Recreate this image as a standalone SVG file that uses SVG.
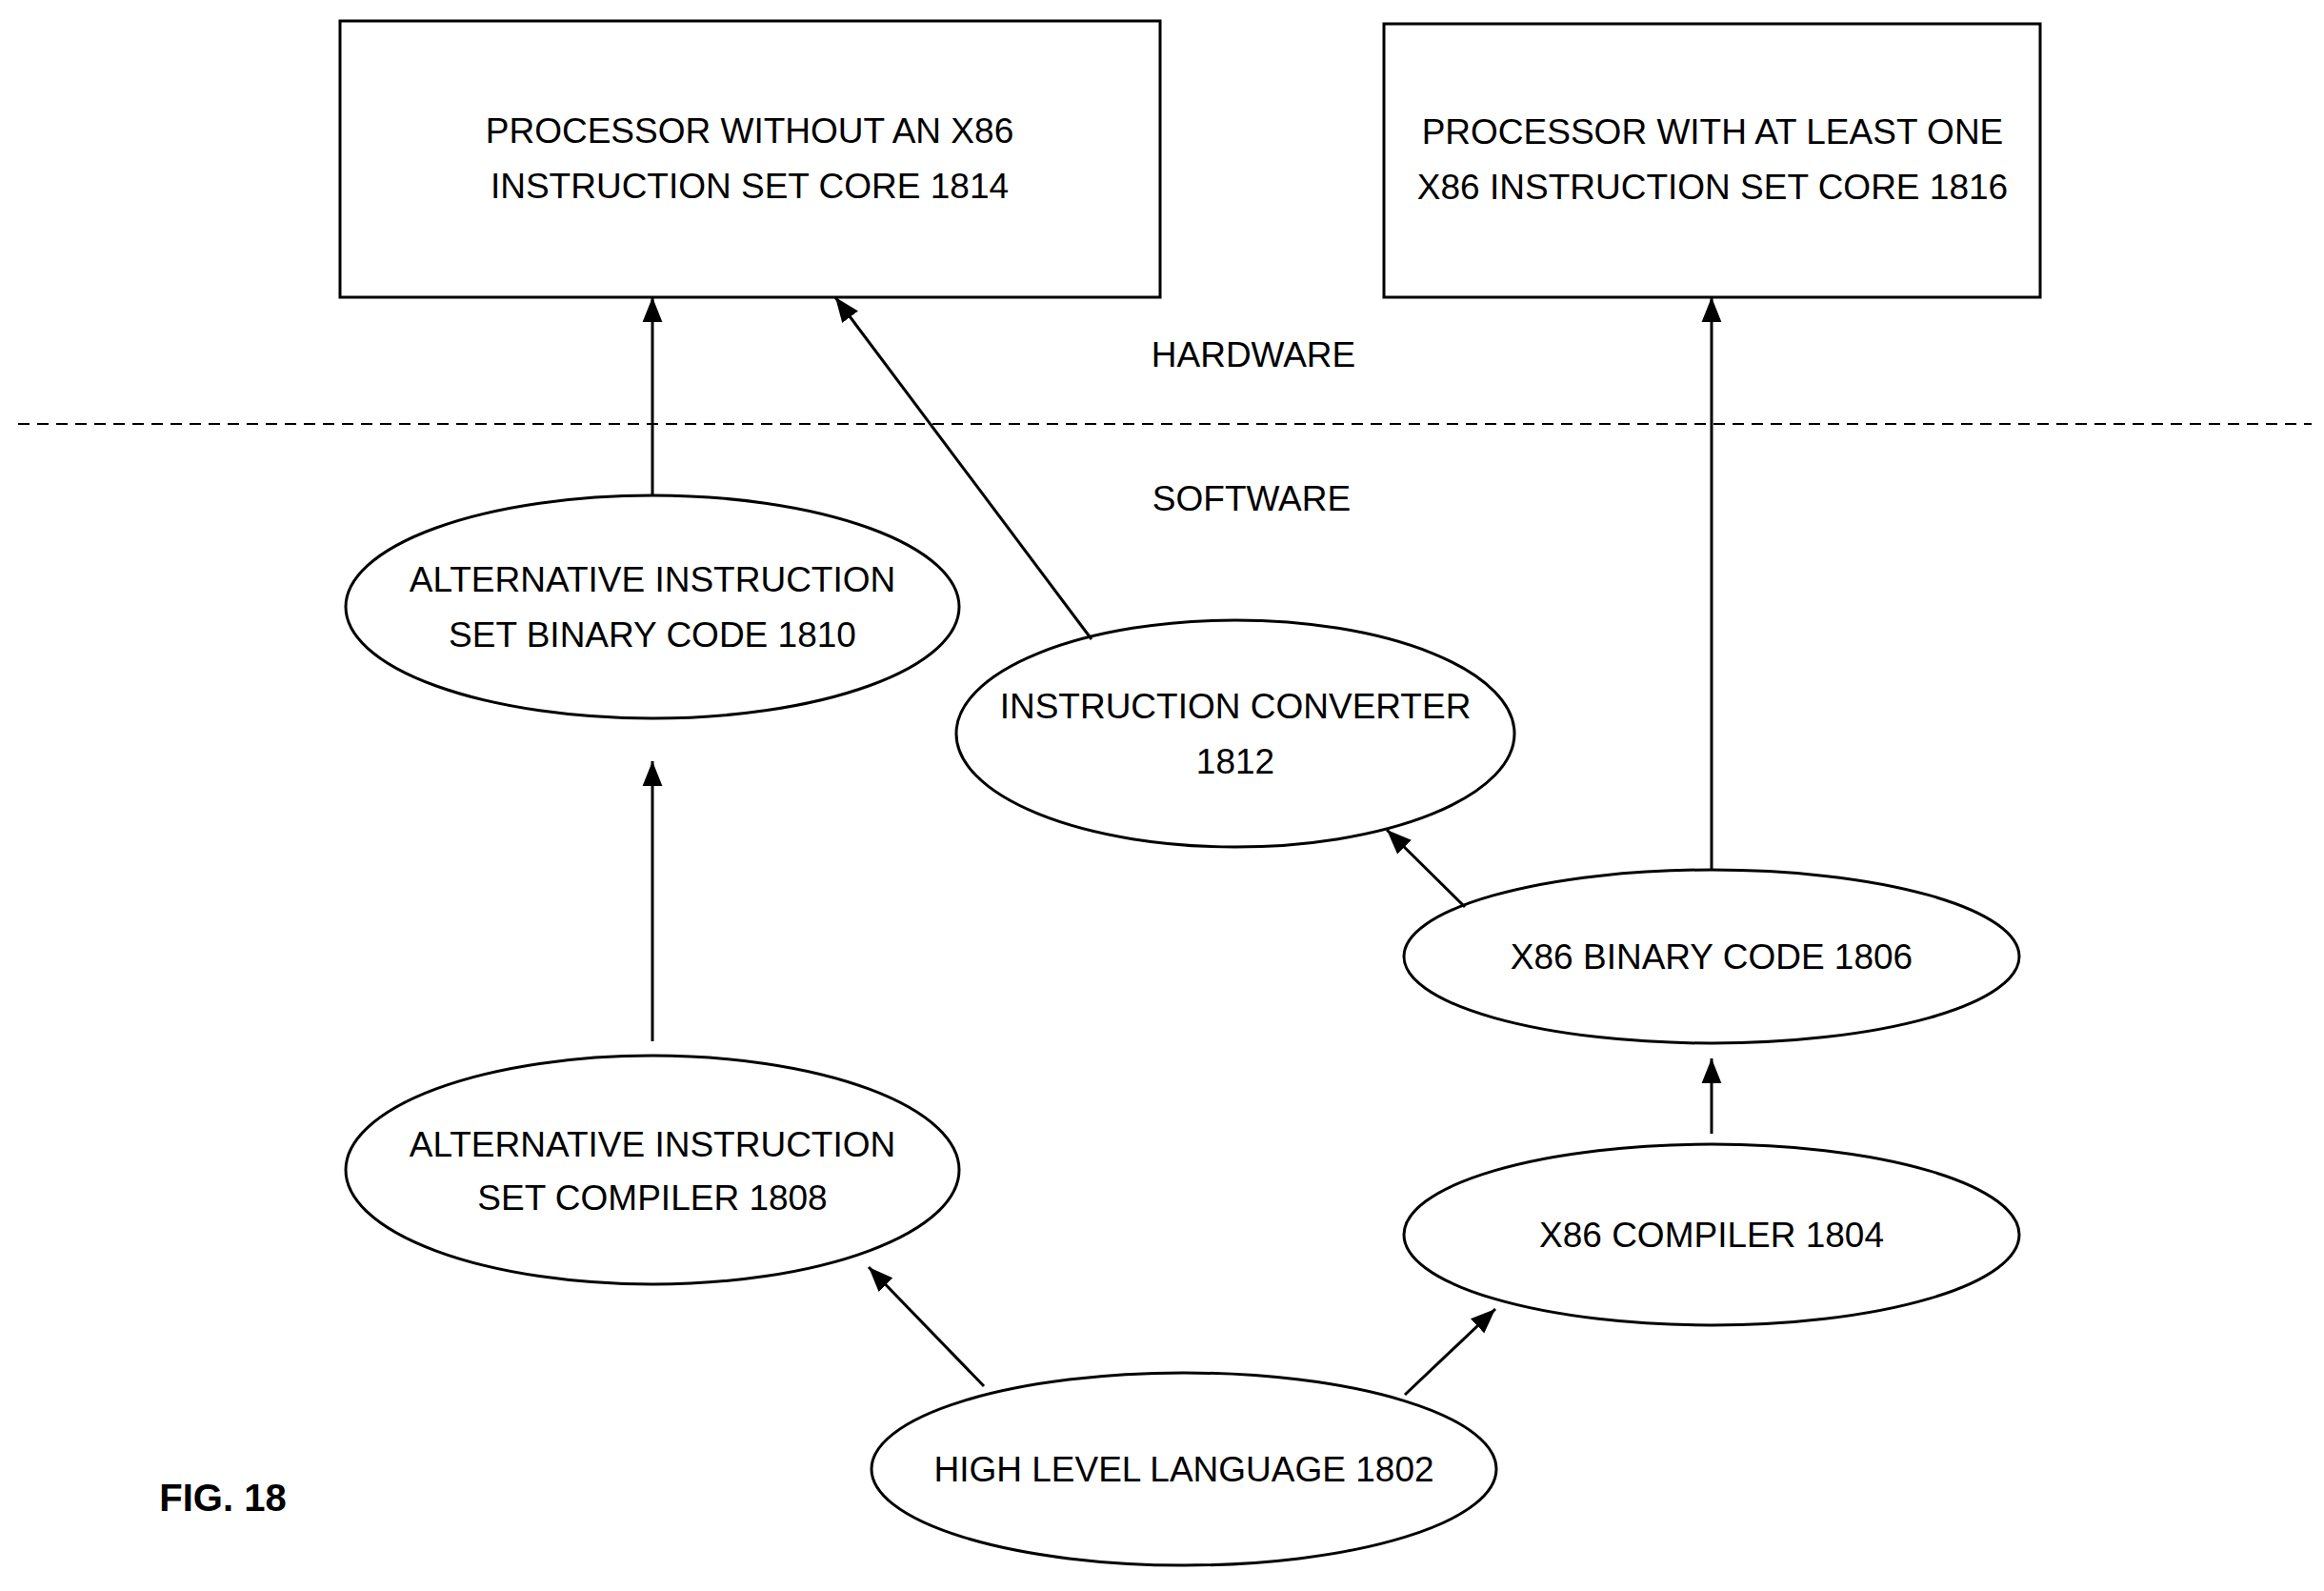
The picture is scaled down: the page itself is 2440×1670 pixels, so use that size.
<svg xmlns="http://www.w3.org/2000/svg" width="2440" height="1670" viewBox="0 0 2440 1670">
<defs>
<marker id="ah" markerWidth="10" markerHeight="10" refX="9" refY="5" orient="auto" markerUnits="userSpaceOnUse" viewBox="0 0 10 10"><path d="M0,0 L10,5 L0,10 z" fill="#000"/></marker>
<marker id="a" viewBox="0 0 10 10" refX="10" refY="5" markerWidth="26" markerHeight="26" markerUnits="userSpaceOnUse" orient="auto"><path d="M0,1 L10,5 L0,9 z" fill="#000"/></marker>
</defs>
<style>
.n{fill:#fff;stroke:#000;stroke-width:3}
.t{font-family:"Liberation Sans",Arial,sans-serif;font-size:37px;fill:#000;text-anchor:middle;dominant-baseline:central}
.c line{stroke:#000;stroke-width:3;marker-end:url(#a)}
</style>
<rect width="2440" height="1670" fill="#fff"/>
<g id="box1814"><rect class="n" x="357" y="22" width="861" height="290"/><text class="t" x="787" y="137">PROCESSOR WITHOUT AN X86</text><text class="t" x="787" y="195">INSTRUCTION SET CORE 1814</text></g>
<g id="box1816"><rect class="n" x="1453" y="25" width="689" height="287"/><text class="t" x="1798" y="138">PROCESSOR WITH AT LEAST ONE</text><text class="t" x="1798" y="196">X86 INSTRUCTION SET CORE 1816</text></g>
<text class="t" x="1316" y="372">HARDWARE</text>
<line x1="19" y1="445" x2="2427" y2="445" stroke="#000" stroke-width="2" stroke-dasharray="12,8"/>
<text class="t" x="1314" y="523">SOFTWARE</text>
<g id="n1810"><ellipse class="n" cx="685" cy="637" rx="322" ry="117"/><text class="t" x="685" y="608">ALTERNATIVE INSTRUCTION</text><text class="t" x="685" y="666">SET BINARY CODE 1810</text></g>
<g id="n1812"><ellipse class="n" cx="1297" cy="770" rx="293" ry="119"/><text class="t" x="1297" y="741">INSTRUCTION CONVERTER</text><text class="t" x="1297" y="799">1812</text></g>
<g id="n1806"><ellipse class="n" cx="1797" cy="1004" rx="323" ry="91"/><text class="t" x="1797" y="1004">X86 BINARY CODE 1806</text></g>
<g id="n1808"><ellipse class="n" cx="685" cy="1228" rx="322" ry="120"/><text class="t" x="685" y="1201">ALTERNATIVE INSTRUCTION</text><text class="t" x="685" y="1257">SET COMPILER 1808</text></g>
<g id="n1804"><ellipse class="n" cx="1797" cy="1296" rx="323" ry="95"/><text class="t" x="1797" y="1296">X86 COMPILER 1804</text></g>
<g id="n1802"><ellipse class="n" cx="1243" cy="1542" rx="328" ry="101"/><text class="t" x="1243" y="1542">HIGH LEVEL LANGUAGE 1802</text></g>
<text x="234" y="1572" font-family="Liberation Sans,Arial,sans-serif" font-size="40" font-weight="bold" text-anchor="middle" dominant-baseline="central">FIG. 18</text>
<g class="c">
<line x1="685" y1="520" x2="685" y2="312"/>
<line x1="1146" y1="671" x2="877" y2="312"/>
<line x1="1797" y1="913" x2="1797" y2="312"/>
<line x1="685" y1="1093" x2="685" y2="799"/>
<line x1="1538" y1="952" x2="1456" y2="871"/>
<line x1="1797" y1="1190" x2="1797" y2="1111"/>
<line x1="1033" y1="1455" x2="912" y2="1330"/>
<line x1="1475" y1="1464" x2="1570" y2="1374"/>
</g>
</svg>
